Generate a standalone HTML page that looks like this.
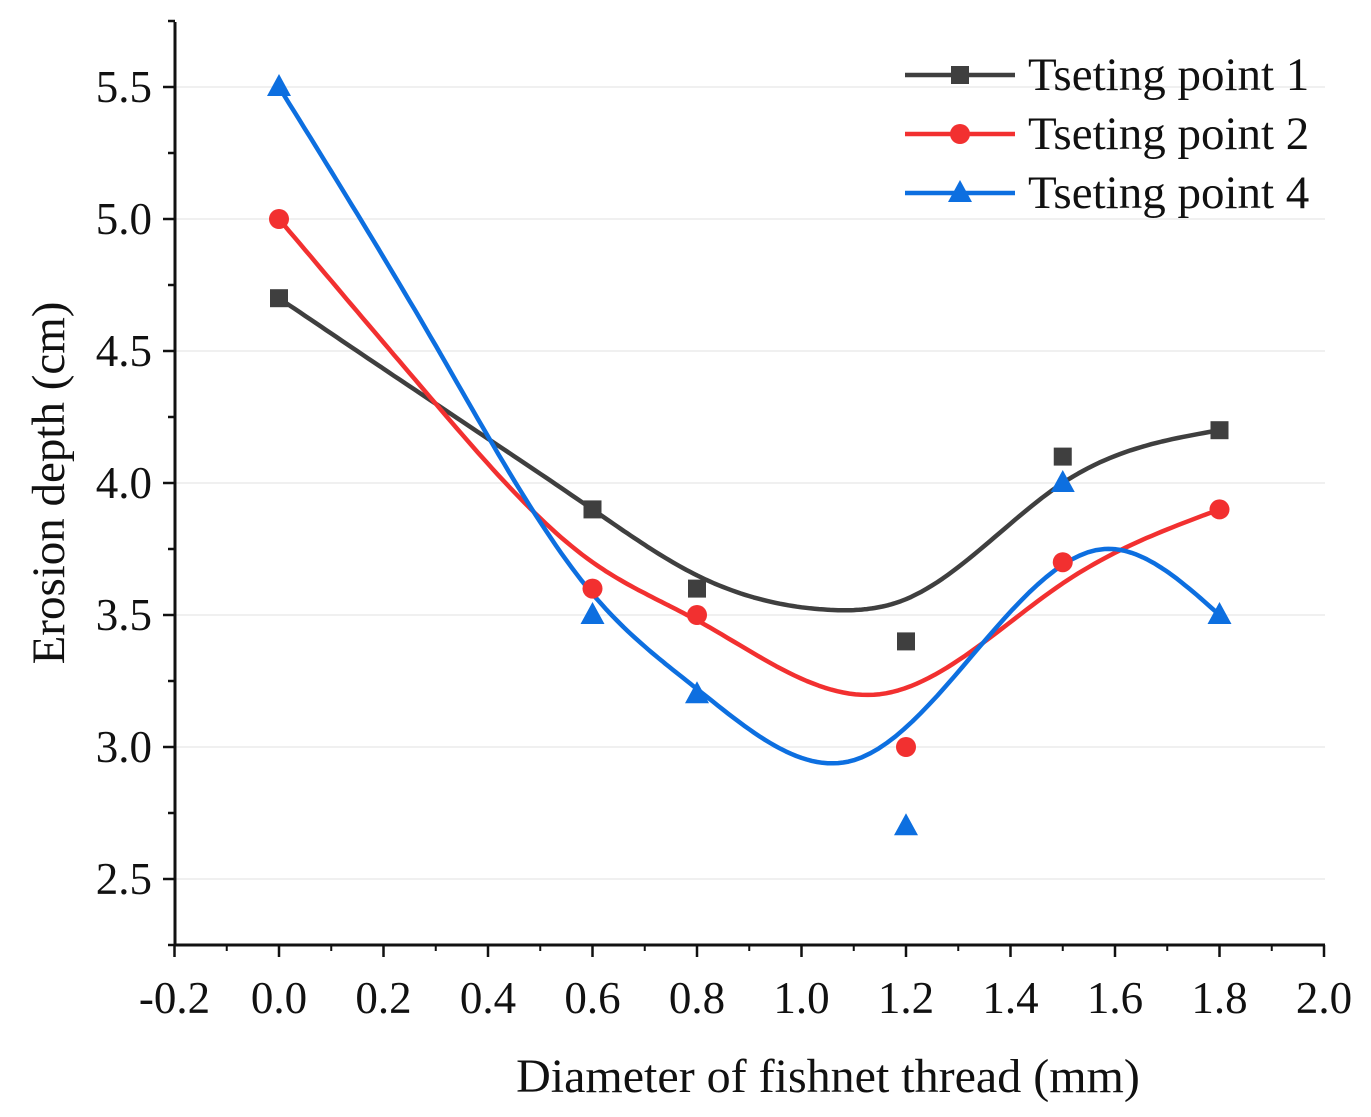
<!DOCTYPE html>
<html><head><meta charset="utf-8"><style>
body{margin:0;background:#fff}
svg text{font-family:"Liberation Serif",serif;fill:#111}
</style></head><body>
<svg id="chart" width="1371" height="1112" xmlns="http://www.w3.org/2000/svg"></svg>
<script>
const xValues=[0,0.6,0.8,1.2,1.5,1.8];
const series1=[4.7,3.9,3.6,3.4,4.1,4.2];
const series2=[5.0,3.6,3.5,3.0,3.7,3.9];
const series4=[5.5,3.5,3.2,2.7,4.0,3.5];
const fit1X=[0,0.3,0.6,0.8,1.05,1.2,1.5,1.8];
const fit1Y=[4.7,4.3,3.9,3.65,3.52,3.56,4.0,4.2];
const fit2X=[0,0.3,0.6,0.8,1.15,1.5,1.8];
const fit2Y=[5.0,4.3,3.7,3.48,3.2,3.62,3.9];
const fit4X=[0,0.3,0.6,0.8,1.1,1.58,1.8];
const fit4Y=[5.5,4.52,3.58,3.22,2.95,3.75,3.5];
const xTicks=[-0.2,0,0.2,0.4,0.6,0.8,1.0,1.2,1.4,1.6,1.8,2.0];
const yTicks=[2.5,3.0,3.5,4.0,4.5,5.0,5.5];
const legendLabels=["Tseting point 1","Tseting point 2","Tseting point 4"];
const colors=["#3f3f3f","#f23030","#0d6fe0"];

const NS="http://www.w3.org/2000/svg";
const svg=document.getElementById('chart');
const X=v=>279+(v/0.2)*104.5;
const Y=v=>747-(v-3.0)/0.5*132;
function el(t,a,p){const e=document.createElementNS(NS,t);for(const k in a)e.setAttribute(k,a[k]);(p||svg).appendChild(e);return e;}
yTicks.forEach(v=>{const g=el('line',{x1:175,x2:1325,y1:Y(v),y2:Y(v),stroke:'#ececec','stroke-width':1.5});

});
const ax=el('path',{d:'M175,22 L175,945 L1325,945',fill:'none',stroke:'#111','stroke-width':3});


xTicks.forEach((v,i)=>{el('line',{x1:X(v),x2:X(v),y1:945,y2:957,stroke:'#111','stroke-width':2.5});
 if(i<xTicks.length-1)el('line',{x1:X(v+0.1),x2:X(v+0.1),y1:945,y2:951,stroke:'#111','stroke-width':2});
 const t=el('text',{x:X(v),y:1013,'text-anchor':'middle','font-size':45});t.textContent=v.toFixed(1);
 
 });
for(let v=2.25;v<=5.75;v+=0.25){const maj=Math.abs((v*2)%1)<0.01;el('line',{x1:maj?163:168,x2:175,y1:Y(v),y2:Y(v),stroke:'#111','stroke-width':2.5});}
yTicks.forEach(v=>{const t=el('text',{x:152,y:Y(v)+15,'text-anchor':'end','font-size':45});t.textContent=v.toFixed(1);
 
 });
const xl=el('text',{x:828,y:1092,'text-anchor':'middle','font-size':48});xl.textContent='Diameter of fishnet thread (mm)';


const yl=el('text',{x:0,y:0,'text-anchor':'middle','font-size':47,transform:'translate(64,483) rotate(-90)'});yl.textContent='Erosion depth (cm)';


function natSpline(xs,ys){const n=xs.length,h=[],a=[],l=[1],mu=[0],z=[0],c=new Array(n).fill(0),b=[],d=[];
 for(let i=0;i<n-1;i++)h[i]=xs[i+1]-xs[i];
 for(let i=1;i<n-1;i++)a[i]=3/h[i]*(ys[i+1]-ys[i])-3/h[i-1]*(ys[i]-ys[i-1]);
 for(let i=1;i<n-1;i++){l[i]=2*(xs[i+1]-xs[i-1])-h[i-1]*mu[i-1];mu[i]=h[i]/l[i];z[i]=(a[i]-h[i-1]*z[i-1])/l[i];}
 for(let j=n-2;j>=0;j--){c[j]=j>0?z[j]-mu[j]*c[j+1]:0;
  b[j]=(ys[j+1]-ys[j])/h[j]-h[j]*(c[j+1]+2*c[j])/3;d[j]=(c[j+1]-c[j])/(3*h[j]);}
 let pts=[];
 for(let j=0;j<n-1;j++){for(let k=0;k<=30;k++){const t=h[j]*k/30,x=xs[j]+t;
  pts.push([X(x),Y(ys[j]+b[j]*t+c[j]*t*t+d[j]*t*t*t)]);}}
 return 'M'+pts.map(p=>p[0].toFixed(1)+','+p[1].toFixed(1)).join(' L');}
function marker(type,x,y,c,name){let m;
 if(type===0)m=el('rect',{x:x-9,y:y-9,width:18,height:18,fill:c});
 else if(type===1)m=el('circle',{cx:x,cy:y,r:10,fill:c});
 else m=el('polygon',{points:`${x},${y-13} ${x-12},${y+9} ${x+12},${y+9}`,fill:c});
 
 }
const fits=[[fit1X,fit1Y],[fit2X,fit2Y],[fit4X,fit4Y]],data=[series1,series2,series4];
fits.forEach((f,i)=>{const l=el('path',{d:natSpline(f[0],f[1]),fill:'none',stroke:colors[i],'stroke-width':4.5,'stroke-linejoin':'round'});
 
 });
data.forEach((s,i)=>s.forEach((v,j)=>marker(i,X(xValues[j]),Y(v),colors[i],'point-s'+(i+1)+'-'+j)));
legendLabels.forEach((lab,i)=>{const y=75+i*59;
 const g=el('g',{});
 
 el('line',{x1:905,x2:1015,y1:y,y2:y,stroke:colors[i],'stroke-width':4.5},g);
 const t=el('text',{x:1028,y:y+15,'font-size':47},g);t.textContent=lab;
 marker(i,960,y,colors[i],'legend-marker');});
</script>
</body></html>
